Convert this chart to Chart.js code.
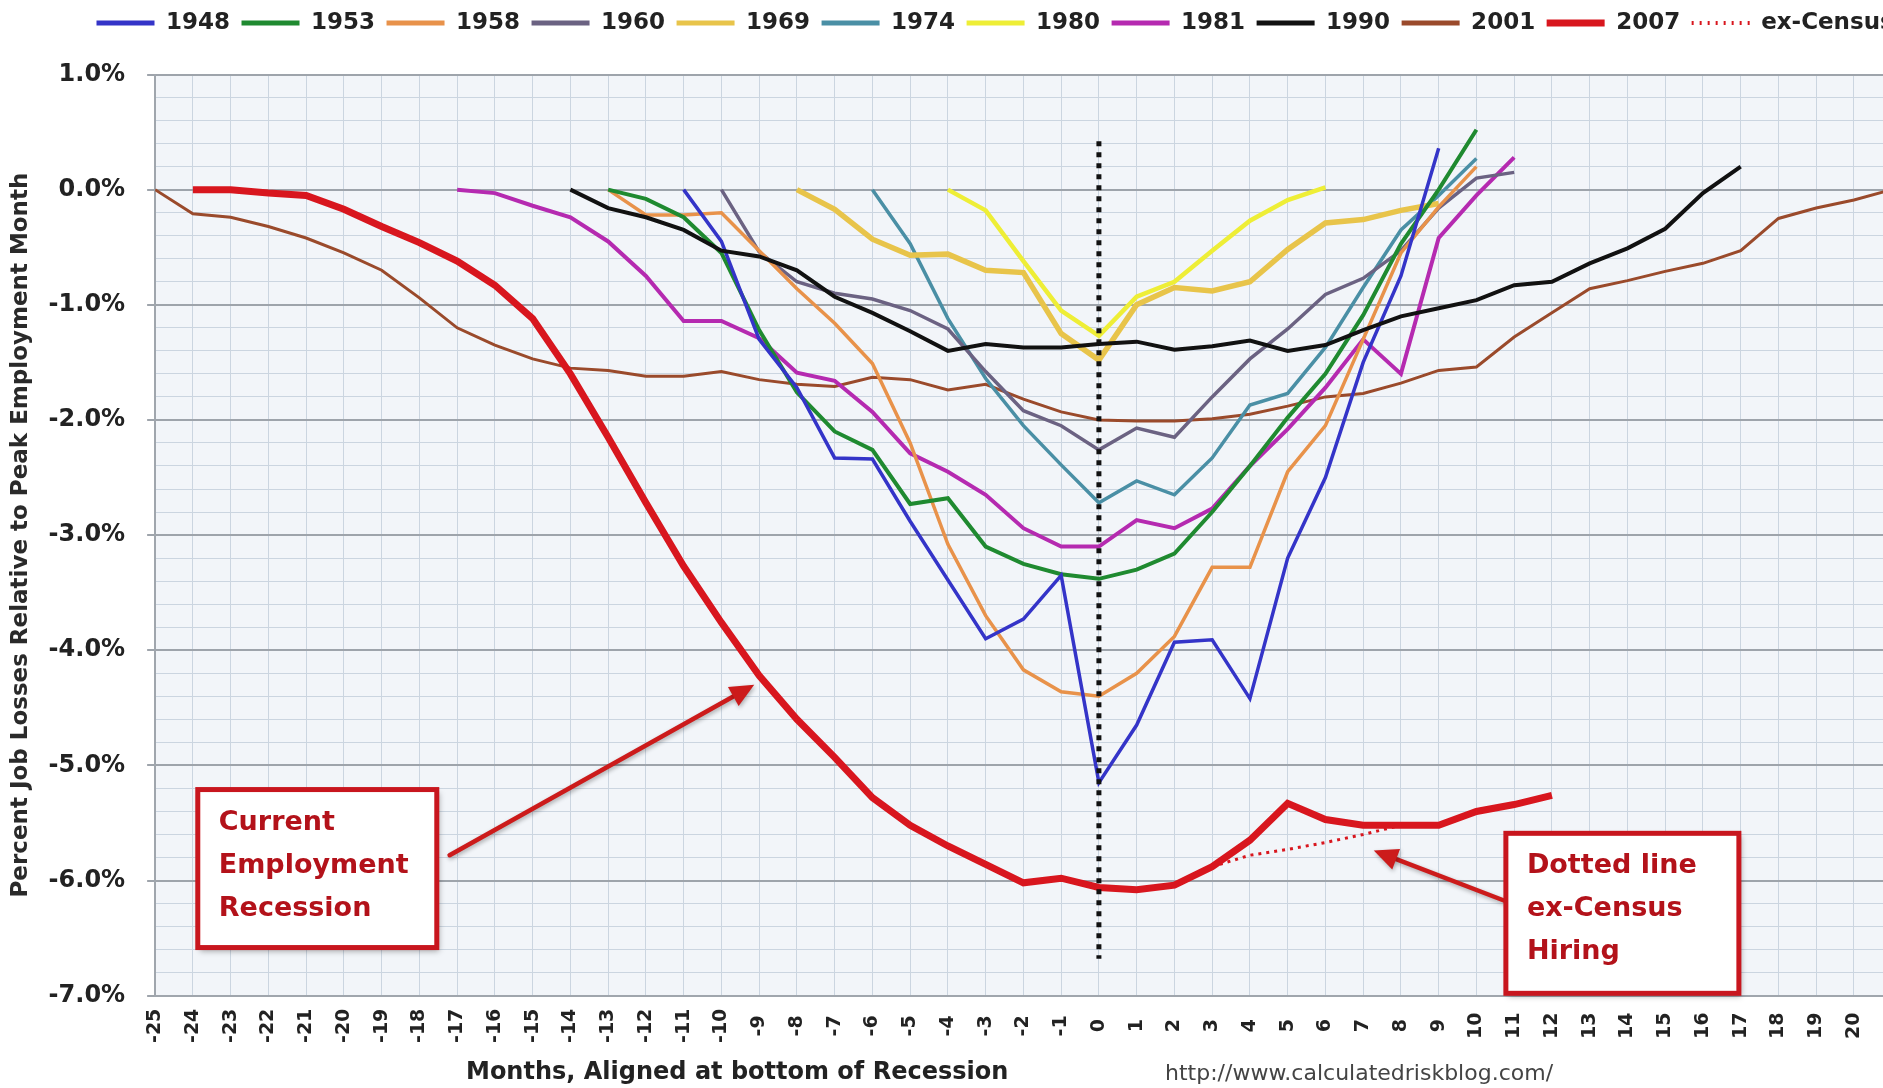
<!DOCTYPE html>
<html>
<head>
<meta charset="utf-8">
<title>Percent Job Losses in Post WWII Recessions</title>
<script src="https://cdn.jsdelivr.net/npm/chart.js@4.4.1/dist/chart.umd.min.js"></script>
<style>
  html, body { margin:0; padding:0; background:#ffffff; overflow:hidden; }
  body { width:1883px; height:1088px; position:relative; }
  #chart { position:absolute; left:0; top:0; }
</style>
</head>
<body>
<canvas id="chart" width="2003" height="1088"></canvas>
<script>
// ---------------- data ----------------
const seriesLabels = ['1948','1953','1958','1960','1969','1974','1980','1981','1990','2001','2007','ex-Census'];
// month (relative to bottom of recession) of each series' first value
const seriesStart  = [-11, -13, -13, -10, -8, -6, -4, -17, -14, -25, -24, 3];

const r1948 = [0.0, -0.45, -1.3, -1.72, -2.33, -2.34, -2.88, -3.39, -3.9, -3.73, -3.35,
               -5.15, -4.65, -3.93, -3.91, -4.42, -3.2, -2.5, -1.5, -0.75, 0.36];
const r1953 = [0.0, -0.08, -0.24, -0.55, -1.22, -1.76, -2.1, -2.26, -2.73, -2.68, -3.1, -3.25, -3.34,
               -3.38, -3.3, -3.16, -2.8, -2.4, -1.98, -1.6, -1.09, -0.47, 0.0, 0.52];
const r1958 = [0.0, -0.22, -0.22, -0.2, -0.53, -0.86, -1.16, -1.51, -2.2, -3.08, -3.7, -4.17, -4.36,
               -4.4, -4.2, -3.88, -3.28, -3.28, -2.45, -2.05, -1.3, -0.55, -0.15, 0.2];
const r1960 = [0.0, -0.54, -0.8, -0.9, -0.95, -1.05, -1.21, -1.58, -1.92, -2.05,
               -2.26, -2.07, -2.15, -1.8, -1.47, -1.21, -0.91, -0.77, -0.53, -0.16, 0.1, 0.15];
const r1969 = [0.0, -0.17, -0.43, -0.57, -0.56, -0.7, -0.72, -1.25,
               -1.48, -1.0, -0.85, -0.88, -0.8, -0.52, -0.29, -0.26, -0.18, -0.12];
const r1974 = [0.0, -0.47, -1.12, -1.64, -2.05, -2.39,
               -2.72, -2.53, -2.65, -2.33, -1.87, -1.77, -1.37, -0.85, -0.35, -0.05, 0.27];
const r1980 = [0.0, -0.18, -0.62, -1.05, -1.27, -0.93, -0.8, -0.53, -0.27, -0.09, 0.02];
const r1981 = [0.0, -0.03, -0.14, -0.24, -0.45, -0.75, -1.14, -1.14, -1.29, -1.59, -1.66, -1.93, -2.29, -2.45, -2.65, -2.94, -3.1,
               -3.1, -2.87, -2.94, -2.77, -2.4, -2.08, -1.72, -1.3, -1.6, -0.42, -0.05, 0.28];
const r1990 = [0.0, -0.16, -0.24, -0.35, -0.53, -0.58, -0.7, -0.93, -1.07, -1.23, -1.4, -1.34, -1.37, -1.37,
               -1.34, -1.32, -1.39, -1.36, -1.31, -1.4, -1.35, -1.22, -1.1, -1.03, -0.96, -0.83, -0.8, -0.64, -0.51, -0.34, -0.03, 0.2];
const r2001 = [0.0, -0.21, -0.24, -0.32, -0.42, -0.55, -0.7, -0.94, -1.2, -1.35, -1.47, -1.55, -1.57, -1.62, -1.62, -1.58,
               -1.65, -1.69, -1.71, -1.63, -1.65, -1.74, -1.69, -1.82, -1.93,
               -2.0, -2.01, -2.01, -1.99, -1.95, -1.88, -1.8, -1.77, -1.68, -1.57, -1.54, -1.28, -1.07, -0.86, -0.79,
               -0.71, -0.64, -0.53, -0.25, -0.16, -0.09, 0.0];
const r2007 = [0.0, 0.0, -0.03, -0.05, -0.17, -0.32, -0.46, -0.62, -0.83, -1.12, -1.6, -2.15, -2.72, -3.27, -3.76,
               -4.22, -4.6, -4.93, -5.28, -5.52, -5.7, -5.86, -6.02, -5.98,
               -6.06, -6.08, -6.04, -5.88, -5.65, -5.33, -5.47, -5.52, -5.52, -5.52, -5.4, -5.34, -5.26];
const rExCensus = [-5.88, -5.78, -5.73, -5.67, -5.6, -5.52];
const seriesValues = [r1948, r1953, r1958, r1960, r1969, r1974, r1980, r1981, r1990, r2001, r2007, rExCensus];

// vertical dotted marker at the bottom of the recession
const troughMonth = 0;
const troughExtent = [0.42, -6.68];

// axis ticks
const monthTicks = [-25,-24,-23,-22,-21,-20,-19,-18,-17,-16,-15,-14,-13,-12,-11,-10,-9,-8,-7,-6,-5,-4,-3,-2,-1,
                    0,1,2,3,4,5,6,7,8,9,10,11,12,13,14,15,16,17,18,19,20,21,22,23];
const pctTicks = [1, 0, -1, -2, -3, -4, -5, -6, -7];

// ---------------- styles ----------------
const seriesColors = ['#3434c8','#1f8a30','#e8924a','#6b6282','#e8c44a','#4a8fa5','#eeee36','#b52ab0','#111111','#9a4a2b','#d8161e','#d8161e'];
const seriesWidths = [3.5, 4, 3.5, 3.5, 5.5, 3.5, 4.5, 4, 4, 3, 7, 3];
const seriesOrder  = [3, 3, 3, 3, 3, 3, 3, 3, 2, 3, 1, 1];

// annotation boxes/arrows (data-space anchors)
const noteBoxes = [
  { x: -23.87, y: -5.21, w: 239, h: 158, lines: ['Current', 'Employment', 'Recession'] },
  { x: 10.78,  y: -5.59, w: 233, h: 160, lines: ['Dotted line', 'ex-Census', 'Hiring'] }
];
const noteArrows = [
  { from: [-17.2, -5.78], to: [-9.13, -4.30] },
  { from: [10.78, -6.18], to: [7.28, -5.74] }
];

// ---------------- build datasets ----------------
const FONT = '"DejaVu Sans", "Liberation Sans", sans-serif';
const datasets = seriesLabels.map((lab, i) => ({
  label: lab,
  data: seriesValues[i].map((v, k) => ({ x: seriesStart[i] + k, y: v })),
  borderColor: seriesColors[i],
  backgroundColor: seriesColors[i],
  borderWidth: seriesWidths[i],
  borderDash: lab === 'ex-Census' ? [3, 5] : [],
  order: seriesOrder[i],
  pointRadius: 0,
  tension: 0,
  fill: false
}));
datasets.push({
  label: '',
  data: troughExtent.map(v => ({ x: troughMonth, y: v })),
  borderColor: '#111111',
  borderWidth: 5,
  borderDash: [5, 6],
  order: 0,
  pointRadius: 0,
  fill: false
});

const isMajor = v => Math.abs(v - Math.round(v)) < 1e-6;
const minorGrid = [];
for (let k = 0; k <= 40; k++) minorGrid.push(Math.round((1 - k * 0.2) * 10) / 10);

// ---------------- plugins ----------------
const plotBackground = {
  id: 'plotBackground',
  beforeDraw(chart) {
    const { ctx, chartArea: a } = chart;
    ctx.save();
    ctx.fillStyle = '#ffffff';
    ctx.fillRect(0, 0, chart.width, chart.height);
    ctx.fillStyle = '#f2f5f9';
    ctx.fillRect(a.left, a.top, a.right - a.left, a.bottom - a.top);
    ctx.restore();
  }
};

const LAYOUT_TOP = 30;
const legendPlacement = {
  id: 'legendPlacement',
  afterLayout(chart) {
    const lg = chart.legend;
    if (!lg) return;
    lg.top -= LAYOUT_TOP; lg.bottom -= LAYOUT_TOP;
    lg.left += 85; lg.right += 2000;
  }
};

const notes = {
  id: 'notes',
  afterDatasetsDraw(chart) {
    const { ctx } = chart;
    const xs = chart.scales.x, ys = chart.scales.y;
    ctx.save();
    // arrows
    noteArrows.forEach(a => {
      const x1 = xs.getPixelForValue(a.from[0]), y1 = ys.getPixelForValue(a.from[1]);
      const x2 = xs.getPixelForValue(a.to[0]),   y2 = ys.getPixelForValue(a.to[1]);
      const ang = Math.atan2(y2 - y1, x2 - x1);
      const hl = 24, hw = 11;
      const bx = x2 - hl * Math.cos(ang), by = y2 - hl * Math.sin(ang);
      ctx.shadowColor = 'rgba(0,0,0,0.3)'; ctx.shadowBlur = 4; ctx.shadowOffsetX = 1; ctx.shadowOffsetY = 2;
      ctx.strokeStyle = '#cc1b1b'; ctx.fillStyle = '#cc1b1b';
      ctx.lineWidth = 4.5; ctx.lineCap = 'round';
      ctx.beginPath(); ctx.moveTo(x1, y1); ctx.lineTo(bx, by); ctx.stroke();
      ctx.beginPath();
      ctx.moveTo(x2, y2);
      ctx.lineTo(bx + hw * Math.sin(ang), by - hw * Math.cos(ang));
      ctx.lineTo(bx - hw * Math.sin(ang), by + hw * Math.cos(ang));
      ctx.closePath(); ctx.fill();
    });
    // boxes
    noteBoxes.forEach(b => {
      const left = xs.getPixelForValue(b.x), top = ys.getPixelForValue(b.y);
      ctx.shadowColor = 'rgba(0,0,0,0.35)'; ctx.shadowBlur = 6; ctx.shadowOffsetX = 2; ctx.shadowOffsetY = 3;
      ctx.fillStyle = '#ffffff';
      ctx.fillRect(left, top, b.w, b.h);
      ctx.shadowColor = 'rgba(0,0,0,0)';
      ctx.strokeStyle = '#c8161e'; ctx.lineWidth = 5;
      ctx.strokeRect(left, top, b.w, b.h);
      ctx.fillStyle = '#b3121a';
      ctx.font = 'bold 27px ' + FONT;
      ctx.textAlign = 'left'; ctx.textBaseline = 'middle';
      b.lines.forEach((t, i) => ctx.fillText(t, left + 21, top + 33 + i * 43));
    });
    ctx.restore();
  },
  afterDraw(chart) {
    const { ctx } = chart;
    ctx.save();
    ctx.textAlign = 'left'; ctx.textBaseline = 'middle';
    ctx.fillStyle = '#222222';
    ctx.font = 'bold 24px ' + FONT;
    ctx.fillText('Months, Aligned at bottom of Recession', 466, 1073);
    ctx.fillStyle = '#444444';
    ctx.font = '22px ' + FONT;
    ctx.fillText('http://www.calculatedriskblog.com/', 1165, 1074);
    ctx.restore();
  }
};

// ---------------- chart ----------------
const centerPad = v => {
  const s = String(v);
  if (v >= 0 && v <= 9) return s + ' \u2009';
  if (v < 0 && v >= -9) return s + ' ';
  if (v >= 10) return s + '\u2009';
  return s;
};

new Chart(document.getElementById('chart').getContext('2d'), {
  type: 'line',
  data: { datasets },
  options: {
    responsive: false,
    animation: false,
    devicePixelRatio: 1,
    layout: { padding: { top: LAYOUT_TOP, bottom: 32, left: 0, right: 0 } },
    plugins: {
      tooltip: { enabled: false },
      legend: {
        position: 'top',
        align: 'start',
        labels: {
          usePointStyle: true,
          pointStyle: 'line',
          pointStyleWidth: 58,
          padding: 11.5,
          color: '#222222',
          font: { family: FONT, size: 23, weight: 'bold' },
          filter: item => item.text !== '',
          sort: (a, b) => a.datasetIndex - b.datasetIndex,
          generateLabels: chart => Chart.defaults.plugins.legend.labels.generateLabels(chart).map(l => {
            l.pointStyle = 'line';
            if (l.text === 'ex-Census') { l.lineWidth = 4; l.lineDash = [2, 6]; }
            else l.lineWidth = l.text === '2007' ? 7 : 5;
            return l;
          })
        }
      }
    },
    scales: {
      x: {
        type: 'linear',
        min: -25, max: 23,
        afterBuildTicks: scale => { scale.ticks = monthTicks.map(v => ({ value: v })); },
        ticks: {
          autoSkip: false,
          minRotation: 90, maxRotation: 90,
          padding: 13,
          color: '#222222',
          font: { family: FONT, size: 19, weight: 'bold' },
          callback: v => centerPad(v)
        },
        grid: { color: '#cbd5e0', lineWidth: 1, drawTicks: false },
        border: { display: true, color: '#a0a6ad', width: 2 }
      },
      y: {
        type: 'linear',
        min: -7, max: 1,
        afterBuildTicks: scale => { scale.ticks = minorGrid.map(v => ({ value: v })); },
        ticks: {
          autoSkip: false,
          padding: 22,
          color: '#222222',
          font: { family: FONT, size: 24, weight: 'bold' },
          callback: v => {
            if (!isMajor(v)) return '';
            const r = Math.round(v);
            return pctTicks.includes(r) ? r.toFixed(1) + '%' : '';
          }
        },
        grid: {
          color: c => (c.tick && isMajor(c.tick.value)) ? '#9ea4ab' : '#cbd5e0',
          lineWidth: c => (c.tick && isMajor(c.tick.value)) ? 2 : 1,
          tickLength: 8,
          tickColor: c => (c.tick && isMajor(c.tick.value)) ? '#9ea4ab' : 'rgba(0,0,0,0)'
        },
        border: { display: true, color: '#a0a6ad', width: 2 },
        title: {
          display: true,
          text: 'Percent Job Losses Relative to Peak Employment Month',
          color: '#2a2a2a',
          font: { family: FONT, size: 23, weight: 'bold' },
          padding: { top: 7, bottom: -8 }
        }
      }
    }
  },
  plugins: [plotBackground, legendPlacement, notes]
});
</script>
</body>
</html>
